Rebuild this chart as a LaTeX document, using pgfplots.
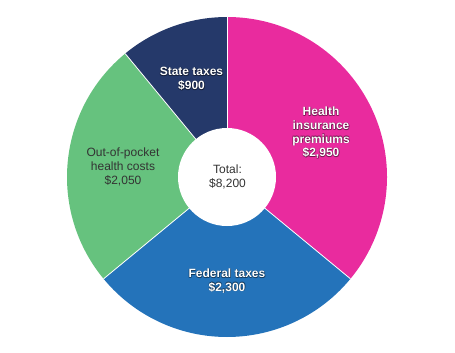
\documentclass[border=0pt]{standalone}
\usepackage{pgfplots}
\pgfplotsset{compat=1.18}
\usepackage{fontspec}
\setmainfont{Liberation Sans}
\definecolor{cpink}{HTML}{E92B9E}
\definecolor{cblue}{HTML}{2473BA}
\definecolor{cgreen}{HTML}{66C27E}
\definecolor{cnavy}{HTML}{25396A}
\definecolor{ctext}{HTML}{333333}
% values
\def\vHealth{2950}
\def\vFederal{2300}
\def\vOut{2050}
\def\vState{900}
\def\vTotal{8200}
\tikzset{lbl/.style={align=center, inner sep=0pt, font=\fontsize{12bp}{13.7bp}\selectfont\bfseries}}
\newcommand{\shadowed}[3]{%
\node[lbl, black, opacity=0.3] at ([shift={(0.6bp,-0.6bp)}]axis cs:#1,#2) {#3};
\node[lbl, black, opacity=0.3] at ([shift={(-0.4bp,0.4bp)}]axis cs:#1,#2) {#3};
\node[lbl, black, opacity=0.3] at ([shift={(0.6bp,0.4bp)}]axis cs:#1,#2) {#3};
\node[lbl, black, opacity=0.3] at ([shift={(-0.4bp,-0.6bp)}]axis cs:#1,#2) {#3};
\node[lbl, white] at (axis cs:#1,#2) {#3};}
\begin{document}
\begin{tikzpicture}
\begin{axis}[
  x=1bp, y=1bp,
  xmin=-227, xmax=228, ymin=-175, ymax=177,
  hide axis, clip=false,
]
\path (axis cs:-227,-175) rectangle (axis cs:228,177);
\pgfmathsetmacro{\aA}{90}
\pgfmathsetmacro{\aB}{90-360*(\vHealth/\vTotal)}
\pgfmathsetmacro{\aC}{\aB-360*(\vFederal/\vTotal)}
\pgfmathsetmacro{\aD}{\aC-360*(\vOut/\vTotal)}
\pgfmathsetmacro{\aE}{\aD-360*(\vState/\vTotal)}
\fill[cpink] (axis cs:0,0) -- (axis cs:{160*cos(\aA)},{160*sin(\aA)}) arc[start angle=\aA, end angle=\aB, radius=160bp] -- cycle;
\fill[cblue] (axis cs:0,0) -- (axis cs:{160*cos(\aB)},{160*sin(\aB)}) arc[start angle=\aB, end angle=\aC, radius=160bp] -- cycle;
\fill[cgreen] (axis cs:0,0) -- (axis cs:{160*cos(\aC)},{160*sin(\aC)}) arc[start angle=\aC, end angle=\aD, radius=160bp] -- cycle;
\fill[cnavy] (axis cs:0,0) -- (axis cs:{160*cos(\aD)},{160*sin(\aD)}) arc[start angle=\aD, end angle=\aE, radius=160bp] -- cycle;
\draw[white, line width=0.8bp] (axis cs:0,0) -- (axis cs:{160*cos(\aA)},{160*sin(\aA)});
\draw[white, line width=0.8bp] (axis cs:0,0) -- (axis cs:{160*cos(\aB)},{160*sin(\aB)});
\draw[white, line width=0.8bp] (axis cs:0,0) -- (axis cs:{160*cos(\aC)},{160*sin(\aC)});
\draw[white, line width=0.8bp] (axis cs:0,0) -- (axis cs:{160*cos(\aD)},{160*sin(\aD)});
\fill[white] (axis cs:0,0) circle[radius=49bp];
% labels
\shadowed{94}{44}{Health\\insurance\\premiums\\\$2,950}
\shadowed{0}{-104}{Federal taxes\\\$2,300}
\shadowed{-35.5}{98}{State taxes\\\$900}
\node[align=center, inner sep=0pt, text=ctext, font=\fontsize{12bp}{13.7bp}\selectfont] at (axis cs:-104,10) {Out-of-pocket\\health costs\\\$2,050};
\node[align=center, inner sep=0pt, text=ctext, font=\fontsize{12bp}{13.3bp}\selectfont] at (axis cs:0.5,0) {Total:\\\$8,200};
\end{axis}
\end{tikzpicture}
\end{document}
